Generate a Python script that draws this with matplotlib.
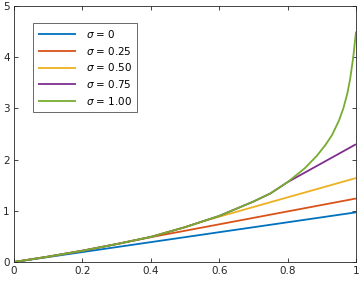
import matplotlib
matplotlib.use("Agg")
import matplotlib.pyplot as plt

# values
x_green = [0, 0.1, 0.2, 0.3, 0.4, 0.5, 0.6, 0.7, 0.75, 0.8, 0.85, 0.885, 0.91, 0.93,
           0.95, 0.963, 0.975, 0.983, 0.992, 1.0]
y_green = [0, 0.105, 0.22, 0.35, 0.49, 0.68, 0.9, 1.18, 1.34, 1.56, 1.83, 2.07, 2.28, 2.48,
           2.76, 3.0, 3.3, 3.58, 4.0, 4.5]

x_purple = [0, 0.1, 0.2, 0.3, 0.4, 0.5, 0.6, 0.7, 0.75, 0.8, 0.9, 1.0]
y_purple = [0, 0.105, 0.22, 0.35, 0.49, 0.68, 0.9, 1.18, 1.34, 1.56, 1.93, 2.30]

x_yellow = [0, 0.1, 0.2, 0.3, 0.4, 0.5, 0.55, 0.6, 0.7, 0.8, 0.9, 1.0]
y_yellow = [0, 0.105, 0.22, 0.35, 0.49, 0.68, 0.79, 0.885, 1.074, 1.263, 1.451, 1.64]

x_red = [0, 0.1, 0.2, 0.3, 0.4, 0.5, 0.6, 0.7, 0.8, 0.9, 1.0]
y_red = [0, 0.105, 0.22, 0.35, 0.485, 0.61, 0.736, 0.862, 0.988, 1.114, 1.24]

x_blue = [0, 0.5, 1.0]
y_blue = [0, 0.485, 0.97]

labels = [r"$\sigma$ = 0", r"$\sigma$ = 0.25", r"$\sigma$ = 0.50", r"$\sigma$ = 0.75", r"$\sigma$ = 1.00"]
colors = ["#0072BD", "#D95319", "#EDB120", "#7E2F8E", "#77AC30"]
xticks = [0, 0.2, 0.4, 0.6, 0.8, 1]
xticklabels = ["0", "0.2", "0.4", "0.6", "0.8", "1"]
yticks = [0, 1, 2, 3, 4, 5]

plt.rcParams["font.family"] = ["DejaVu Sans"]
plt.rcParams["mathtext.fontset"] = "dejavusans"

fig = plt.figure(figsize=(3.62, 2.85), dpi=100)
ax = fig.add_axes([14 / 362, 1 - 262 / 285, 342 / 362, 256 / 285])

series = [(x_blue, y_blue), (x_red, y_red), (x_yellow, y_yellow), (x_purple, y_purple), (x_green, y_green)]
for (xs, ys), c, lab in zip(series, colors, labels):
    ax.plot(xs, ys, color=c, lw=1.3, label=lab, solid_capstyle="butt")

ax.set_xlim(0, 1); ax.set_ylim(0, 5)
ax.set_xticks(xticks); ax.set_xticklabels(xticklabels)
ax.set_yticks(yticks)
ax.tick_params(direction="in", length=3, width=0.6, top=True, right=True,
               labelsize=7.5, colors="#262626", pad=3)
for s in ax.spines.values():
    s.set_color("#262626"); s.set_linewidth(0.6)

leg = ax.legend(loc="upper left", bbox_to_anchor=(0.055, 0.935), fontsize=7.5,
                frameon=True, fancybox=False, edgecolor="#262626", handlelength=3.6,
                handletextpad=1.0, borderpad=0.5, labelspacing=0.45, borderaxespad=0)
leg.get_frame().set_linewidth(0.6)

fig.savefig("out.png", dpi=100)
